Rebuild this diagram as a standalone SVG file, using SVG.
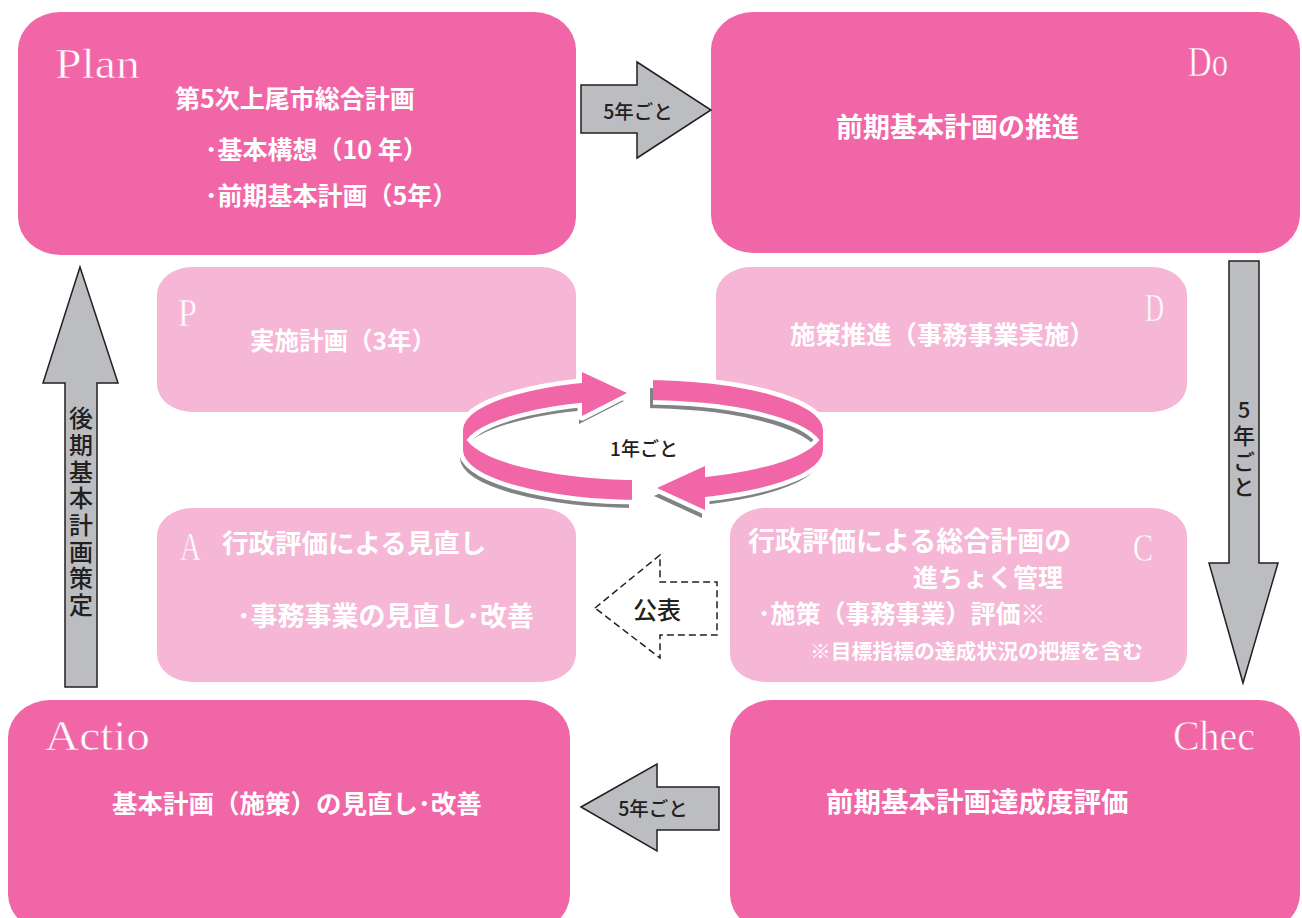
<svg xmlns="http://www.w3.org/2000/svg" xmlns:xlink="http://www.w3.org/1999/xlink" width="1302" height="918" viewBox="0 0 1302 918">
<style>
.big{fill:#F066A6}
.light{fill:#F5B7D5}
.jp{font-family:"Noto Sans CJK JP",sans-serif;font-weight:bold;fill:#fff}
.lat{font-family:"Liberation Serif",serif;fill:#fff;stroke:#F066A6;stroke-width:0.6}
.latl{font-family:"Liberation Serif",serif;fill:#fff;stroke:#F5B7D5;stroke-width:0.6}
.arrow{fill:#BCBDC0;stroke:#231F20;stroke-width:1.5}
.lbl{font-family:"Noto Sans CJK JP",sans-serif;font-weight:500;fill:#231F20}
.vert{writing-mode:vertical-rl;text-orientation:upright}
.dash{fill:#fff;stroke:#231F20;stroke-width:1.5;stroke-dasharray:7 4}
</style>
<defs>
<mask id="gap" maskUnits="userSpaceOnUse" x="0" y="0" width="1302" height="918">
<rect width="1302" height="918" fill="#fff"/>
<rect x="582" y="340" width="71" height="100" fill="#000"/>
<rect x="632" y="440" width="73" height="90" fill="#000"/>
</mask>
<g id="ring">
<path mask="url(#gap)" fill-rule="evenodd" d="M463,430 A180,50 0 0 1 823,430 L823,450 A180,50 0 0 1 463,450 Z M466.6,440 A180,50 0 0 1 819.4,440 A180,50 0 0 1 466.6,440 Z"/>
<path d="M582,372 L627,393 L582,416 Z"/>
<path d="M705,466 L657,488 L705,510 Z"/>
</g>
</defs>

<g id="plan">
<rect class="big" x="18" y="12" width="558" height="243" rx="42" ry="38"/>
<text class="lat" x="55" y="78" font-size="43" textLength="85" lengthAdjust="spacingAndGlyphs">Plan</text>
<text class="jp" x="175" y="108" font-size="25">第5次上尾市総合計画</text>
<text class="jp" x="205" y="159" font-size="25">･基本構想（10 年）</text>
<text class="jp" x="205" y="205" font-size="25">･前期基本計画（5年）</text>
</g>

<g id="do">
<rect class="big" x="711" y="12" width="589" height="241" rx="42" ry="38"/>
<text class="lat" x="1188" y="76" font-size="42" textLength="40" lengthAdjust="spacingAndGlyphs">Do</text>
<text class="jp" x="836" y="137" font-size="27">前期基本計画の推進</text>
</g>

<g id="actio">
<rect class="big" x="8" y="700" width="562" height="232" rx="42" ry="38"/>
<text class="lat" x="45" y="750" font-size="43" textLength="105" lengthAdjust="spacingAndGlyphs">Actio</text>
<text class="jp" x="112" y="813" font-size="25.5">基本計画（施策）の見直し･改善</text>
</g>

<g id="check">
<rect class="big" x="730" y="700" width="570" height="232" rx="42" ry="38"/>
<text class="lat" x="1173" y="750" font-size="43" textLength="82" lengthAdjust="spacingAndGlyphs">Chec</text>
<text class="jp" x="826" y="812" font-size="27.5">前期基本計画達成度評価</text>
</g>

<g id="p">
<rect class="light" x="157" y="267" width="419" height="145" rx="35" ry="28"/>
<text class="latl" x="178" y="326" font-size="41" textLength="19" lengthAdjust="spacingAndGlyphs">P</text>
<text class="jp" x="250" y="350" font-size="24.5">実施計画（3年）</text>
</g>

<g id="d">
<rect class="light" x="716" y="267" width="471" height="145" rx="35" ry="28"/>
<text class="latl" x="1145" y="321" font-size="41" textLength="19" lengthAdjust="spacingAndGlyphs">D</text>
<text class="jp" x="790" y="344" font-size="25.4">施策推進（事務事業実施）</text>
</g>

<g id="a">
<rect class="light" x="157" y="508" width="419" height="174" rx="35" ry="28"/>
<text class="latl" x="180" y="560" font-size="41" textLength="21" lengthAdjust="spacingAndGlyphs">A</text>
<text class="jp" x="222" y="553" font-size="26.5">行政評価による見直し</text>
<text class="jp" x="237" y="626" font-size="27">･事務事業の見直し･改善</text>
</g>

<g id="c">
<rect class="light" x="730" y="508" width="457" height="174" rx="35" ry="28"/>
<text class="latl" x="1133" y="561" font-size="41" textLength="20" lengthAdjust="spacingAndGlyphs">C</text>
<text class="jp" x="748" y="551" font-size="27">行政評価による総合計画の</text>
<text class="jp" x="913" y="587" font-size="25">進ちょく管理</text>
<text class="jp" x="758" y="623" font-size="25">･施策（事務事業）評価※</text>
<text class="jp" x="810" y="659" font-size="20.8">※目標指標の達成状況の把握を含む</text>
</g>

<g id="connectors">
<path class="arrow" d="M581,85 L637,85 L637,62 L711,110 L637,158 L637,133 L581,133 Z"/>
<text class="lbl" x="638" y="119" font-size="19.5" text-anchor="middle">5年ごと</text>

<path class="arrow" d="M581,807 L657,764 L657,787 L719,787 L719,830 L657,830 L657,851 Z"/>
<text class="lbl" x="653" y="816" font-size="19.5" text-anchor="middle">5年ごと</text>

<path class="arrow" d="M1229,261 L1259,261 L1259,563 L1278,563 L1243,683 L1209,563 L1229,563 Z"/>
<text class="lbl vert" x="1244" y="399" font-size="22" letter-spacing="3.7">5年ごと</text>

<path class="arrow" d="M80,267 L118,383 L97,383 L97,687 L65,687 L65,383 L43,383 Z"/>
<text class="lbl vert" x="81" y="406" font-size="24" font-weight="bold" letter-spacing="2.7">後期基本計画策定</text>

<path class="dash" d="M595,608 L660,555 L660,582 L717,582 L717,635 L660,635 L660,658 Z"/>
<text class="lbl" x="657" y="619" font-size="24" text-anchor="middle" font-weight="bold">公表</text>

<g id="cycle">
<use xlink:href="#ring" transform="translate(-3,8)" fill="#808285"/>
<use xlink:href="#ring" fill="#fff" stroke="#fff" stroke-width="9" stroke-linejoin="round"/>
<use xlink:href="#ring" fill="#F066A6"/>
<text class="lbl" x="644" y="456" font-size="19" text-anchor="middle">1年ごと</text>
</g>
</g>
</svg>
